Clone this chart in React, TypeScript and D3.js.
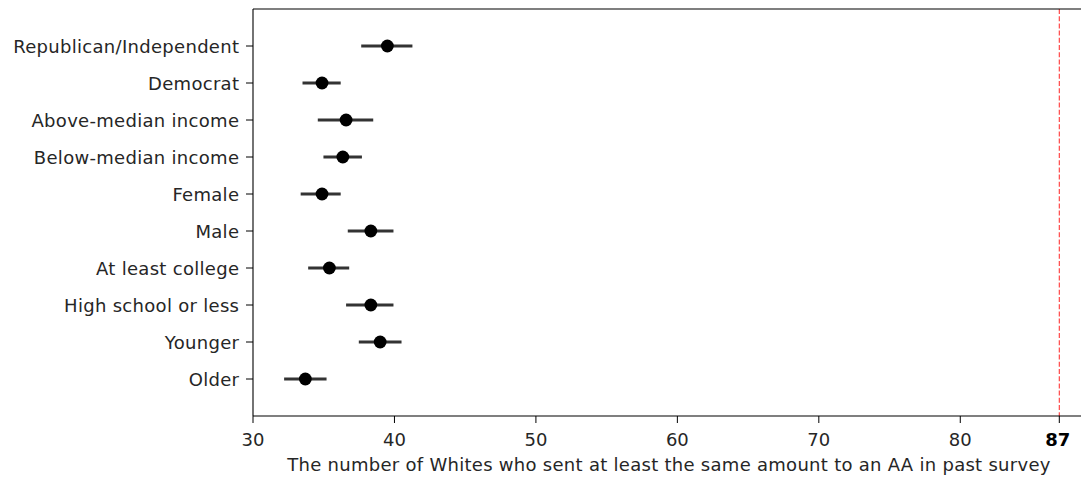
import React from "react";
import * as d3 from "d3";

const categories = [
  "Republican/Independent",
  "Democrat",
  "Above-median income",
  "Below-median income",
  "Female",
  "Male",
  "At least college",
  "High school or less",
  "Younger",
  "Older",
];
const means = [39.5, 34.88, 36.58, 36.35, 34.88, 38.33, 35.4, 38.33, 38.99, 33.7];
const lows = [37.65, 33.5, 34.58, 34.98, 33.37, 36.7, 33.9, 36.58, 37.48, 32.2];
const highs = [41.27, 36.2, 38.5, 37.7, 36.2, 39.93, 36.8, 39.93, 40.5, 35.2];
const xTicks = [30, 40, 50, 60, 70, 80];
const refValue = 87;
const xLabel = "The number of Whites who sent at least the same amount to an AA in past survey";

const W = 1081;
const H = 480;
const left = 253;
const top = 9;
const bottom = 416;

export default function App() {
  const x = d3.scaleLinear().domain([30, 87]).range([left, 1059.3]);
  const right = x(88.8);
  const y = d3.scaleLinear().domain([-1, 10]).range([top, bottom]);
  const font = "'DejaVu Sans', sans-serif";
  const textColor = "#262626";
  const fs = 18;
  return (
    <svg
      width={W}
      height={H}
      style={{ position: "absolute", left: 0, top: 0, background: "#fff" }}
      fontFamily={font}
    >
      <rect x={0} y={0} width={W} height={H} fill="#fff" />
      {/* reference line */}
      <line
        x1={x(refValue)}
        x2={x(refValue)}
        y1={top}
        y2={bottom}
        stroke="#ff2020"
        strokeOpacity={0.9}
        strokeWidth={1.1}
        strokeDasharray="5,2.2"
      />
      {/* error bars and points */}
      {categories.map((c, i) => (
        <g key={c}>
          <line
            x1={x(lows[i])}
            x2={x(highs[i])}
            y1={y(i)}
            y2={y(i)}
            stroke="#333"
            strokeWidth={3}
          />
          <circle cx={x(means[i])} cy={y(i)} r={6.4} fill="#000" />
        </g>
      ))}
      {/* spines: left, top, bottom (right one is outside the picture) */}
      <line x1={left} x2={left} y1={top} y2={bottom} stroke="#000" strokeWidth={1.1} />
      <line x1={left} x2={right} y1={top} y2={top} stroke="#000" strokeWidth={1.1} />
      <line x1={left} x2={right} y1={bottom} y2={bottom} stroke="#000" strokeWidth={1.1} />
      {/* y ticks */}
      {categories.map((c, i) => (
        <g key={"yt" + c}>
          <line x1={left - 7} x2={left} y1={y(i)} y2={y(i)} stroke="#000" strokeWidth={1} />
          <text
            x={left - 13.7}
            y={y(i) + 0.5}
            dy="0.35em"
            textAnchor="end"
            fontSize={fs}
            fill={textColor}
            letterSpacing={0.3}
          >
            {c}
          </text>
        </g>
      ))}
      {/* x ticks */}
      {xTicks.map((t) => (
        <g key={"xt" + t}>
          <line x1={x(t)} x2={x(t)} y1={bottom} y2={bottom + 7} stroke="#000" strokeWidth={1} />
          <text x={x(t)} y={bottom + 29.5} textAnchor="middle" fontSize={fs} fill={textColor}>
            {t}
          </text>
        </g>
      ))}
      <line
        x1={x(refValue)}
        x2={x(refValue)}
        y1={bottom}
        y2={bottom + 7}
        stroke="#000"
        strokeWidth={1}
      />
      <text
        x={x(refValue) - 1.5}
        y={bottom + 29.5}
        textAnchor="middle"
        fontSize={fs}
        fontWeight="bold"
        fill="#000"
      >
        {refValue}
      </text>
      <text
        x={669}
        y={471}
        textAnchor="middle"
        fontSize={fs}
        fill={textColor}
        letterSpacing={0.28}
      >
        {xLabel}
      </text>
    </svg>
  );
}
